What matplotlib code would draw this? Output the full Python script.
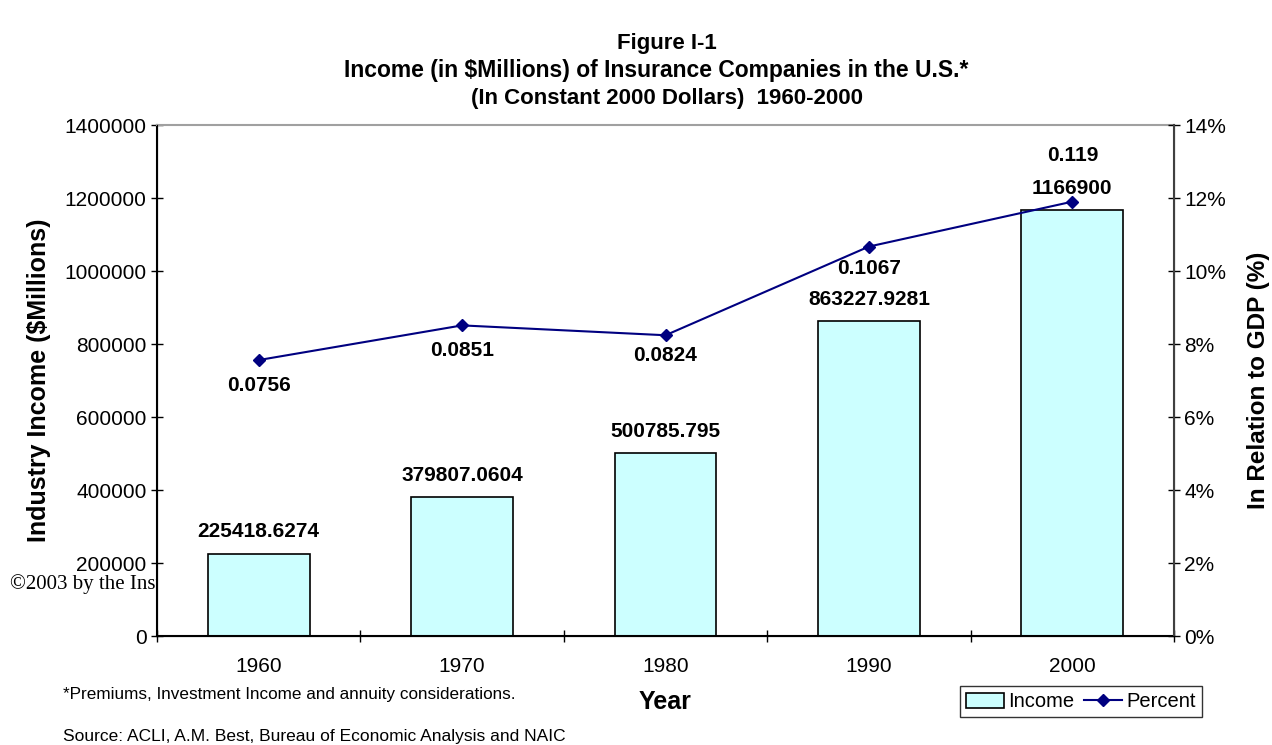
import numpy as np
import matplotlib.pyplot as plt
from matplotlib.ticker import FuncFormatter

years = ['1960', '1970', '1980', '1990', '2000']
income = [225418.6274, 379807.0604, 500785.795, 863227.9281, 1166900]
income_labels = ['225418.6274', '379807.0604', '500785.795', '863227.9281', '1166900']
percent = [0.0756, 0.0851, 0.0824, 0.1067, 0.119]
percent_labels = ['0.0756', '0.0851', '0.0824', '0.1067', '0.119']

plt.rcParams['font.family'] = ['Liberation Sans', 'DejaVu Sans']

fig = plt.figure(figsize=(12.72, 7.45), dpi=100)
ax = fig.add_axes([0.1234, 0.1463, 0.7996, 0.6859])
ax.set_facecolor('white')

x = np.arange(len(years))
ax.bar(x, income, width=0.5, color='#ccffff', edgecolor='black', linewidth=1.2,
       label='Income', zorder=2)
ax.set_xlim(-0.5, 4.5)
ax.set_ylim(0, 1400000)
ax.set_yticks(np.arange(0, 1400001, 200000))
ax.yaxis.set_major_formatter(FuncFormatter(lambda v, p: f'{v:.0f}'))
ax.set_xticks(x)
ax.set_xticklabels(years)
ax.set_xticks(np.arange(-0.5, 4.6, 1), minor=True)
ax.tick_params(axis='x', which='major', length=0, labelsize=15, pad=15)
ax.tick_params(axis='x', which='minor', length=8, direction='inout', width=1)
ax.tick_params(axis='y', length=8, direction='inout', labelsize=15, width=1)
ax.spines['top'].set_color('#a0a0a0')
ax.spines['top'].set_linewidth(1.5)
for s in ['left', 'bottom']:
    ax.spines[s].set_linewidth(1.5)

for xi, v, lab in zip(x, income, income_labels):
    ax.text(xi, v + 60000, lab, ha='center', va='center', fontsize=15, fontweight='bold')

ax.set_ylabel('Industry Income ($Millions)', fontsize=18, fontweight='bold', labelpad=10)
ax.set_xlabel('Year', fontsize=18, fontweight='bold', labelpad=10)

ax2 = ax.twinx()
ax2.plot(x, percent, color='#000080', marker='D', markersize=6, linewidth=1.5, label='Percent')
ax2.set_ylim(0, 0.14)
ax2.set_yticks(np.arange(0, 0.141, 0.02))
ax2.yaxis.set_major_formatter(FuncFormatter(lambda v, p: f'{v * 100:.0f}%'))
ax2.tick_params(axis='y', length=8, direction='inout', labelsize=15, width=1)
ax2.spines['top'].set_visible(False)
ax2.spines['right'].set_color('#404040')
ax2.spines['right'].set_linewidth(1.5)
ax2.set_ylabel('In Relation to GDP (%)', fontsize=17.5, fontweight='bold', labelpad=15)

offsets = [-0.0071, -0.0069, -0.0055, -0.006, 0.0126]
for xi, v, lab, off in zip(x, percent, percent_labels, offsets):
    ax2.text(xi, v + off, lab, ha='center', va='center', fontsize=15, fontweight='bold')

h1, l1 = ax.get_legend_handles_labels()
h2, l2 = ax2.get_legend_handles_labels()
fig.legend(h1 + h2, l1 + l2, loc='lower right', bbox_to_anchor=(0.945, 0.037),
           ncol=2, fontsize=14.5, frameon=True, fancybox=False, edgecolor='black',
           handlelength=1.9, handleheight=0.8, handletextpad=0.2, columnspacing=0.5,
           borderpad=0.3, borderaxespad=0)

fig.text(0.524, 0.941, 'Figure I-1', ha='center', va='center', fontsize=16, fontweight='bold')
fig.text(0.516, 0.905, 'Income (in $Millions) of Insurance Companies in the U.S.*',
         ha='center', va='center', fontsize=16.5, fontweight='bold')
fig.text(0.524, 0.868, '(In Constant 2000 Dollars)  1960-2000', ha='center', va='center',
         fontsize=16, fontweight='bold')

fig.text(0.0495, 0.068, '*Premiums, Investment Income and annuity considerations.',
         fontsize=12.3, va='center')
fig.text(0.0495, 0.012, 'Source: ACLI, A.M. Best, Bureau of Economic Analysis and NAIC',
         fontsize=12.5, va='center')
fig.text(0.008, 0.216, '\u00a92003 by the Insurance Information Institute', fontsize=15,
         family='Liberation Serif', va='center', zorder=-1)

fig.savefig('out.png', dpi=100, facecolor='white')
